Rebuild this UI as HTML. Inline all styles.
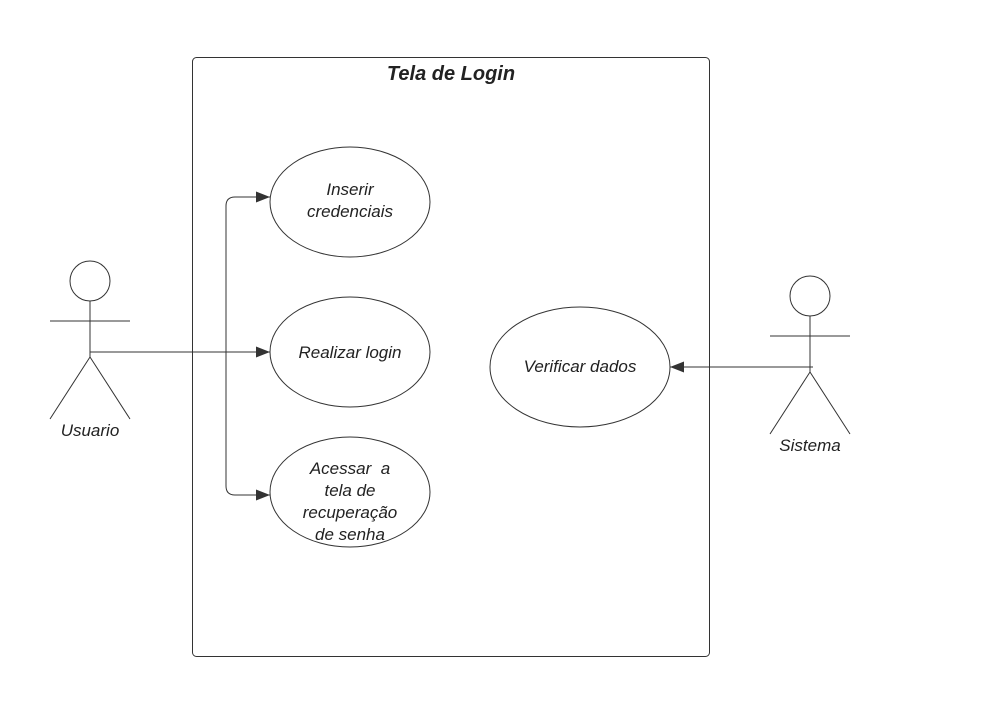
<!DOCTYPE html>
<html><head><style>body{margin:0;background:#fff}svg{display:block}text{font-family:"Liberation Sans",sans-serif;font-style:italic;fill:#222}</style></head><body>
<svg width="1008" height="718" viewBox="0 0 1008 718">
<defs><marker id="a" markerWidth="14" markerHeight="11" refX="14" refY="5.5" orient="auto" markerUnits="userSpaceOnUse"><path d="M0,0 L14,5.5 L0,11 z" fill="#333"/></marker></defs>
<rect x="192.5" y="57.5" width="517" height="599" rx="4" fill="none" stroke="#333" stroke-width="1"/>
<text x="451" y="80" text-anchor="middle" font-size="20" font-weight="bold">Tela de Login</text>
<g fill="none" stroke="#333" stroke-width="1">
<circle cx="90" cy="281" r="20"/><line x1="90" y1="301" x2="90" y2="357"/><line x1="50" y1="321" x2="130" y2="321"/><path d="M50,419 L90,357 L130,419"/>
<circle cx="810" cy="296" r="20"/><line x1="810" y1="316" x2="810" y2="372"/><line x1="770" y1="336" x2="850" y2="336"/><path d="M770,434 L810,372 L850,434"/>
<ellipse cx="350" cy="202" rx="80" ry="55"/>
<ellipse cx="350" cy="352" rx="80" ry="55"/>
<ellipse cx="350" cy="492" rx="80" ry="55"/>
<ellipse cx="580" cy="367" rx="90" ry="60"/>
<line x1="90" y1="352" x2="270" y2="352" marker-end="url(#a)"/>
<path d="M226,352 V206 Q226,197 235,197 H270" marker-end="url(#a)"/>
<path d="M226,352 V486 Q226,495 235,495 H270" marker-end="url(#a)"/>
<line x1="813" y1="367" x2="670" y2="367" marker-end="url(#a)"/>
</g>
<g font-size="17" text-anchor="middle">
<text x="350" y="195">Inserir</text><text x="350" y="217">credenciais</text>
<text x="350" y="358">Realizar login</text>
<text x="350" y="474">Acessar&#160; a</text><text x="350" y="496">tela de</text><text x="350" y="518">recuperação</text><text x="350" y="540">de senha</text>
<text x="580" y="372">Verificar dados</text>
<text x="90" y="436">Usuario</text>
<text x="810" y="451">Sistema</text>
</g>
</svg>
</body></html>
